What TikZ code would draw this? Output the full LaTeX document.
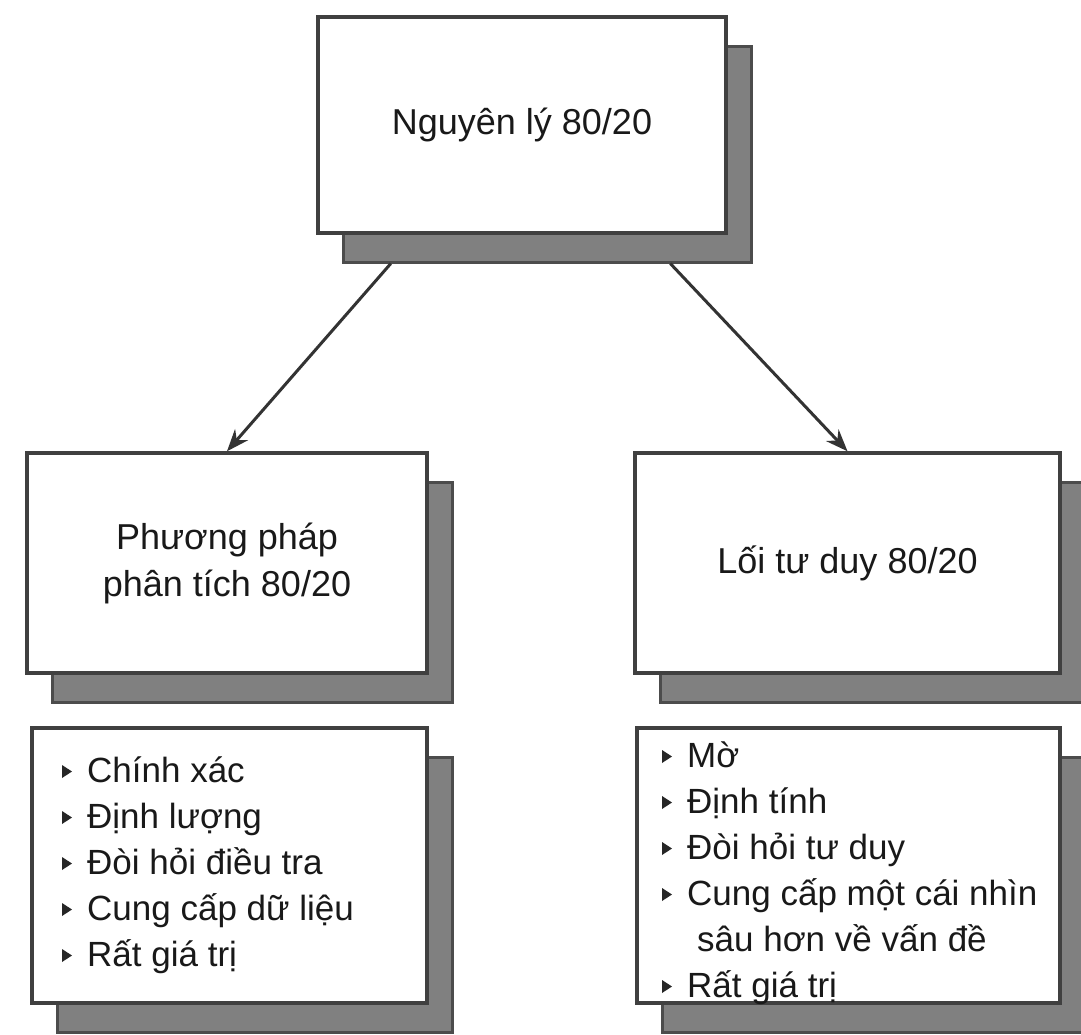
\documentclass[tikz,border=0pt]{standalone}
\usepackage{fontspec}
\setmainfont{Liberation Sans}
\usetikzlibrary{arrows.meta,calc}
\begin{document}
\begin{tikzpicture}[x=1pt,y=-1pt,
  frontbox/.style={draw=black!75, line width=3.5pt, fill=white, inner sep=0pt},
  shadowbox/.style={draw=black!70, line width=3pt, fill=black!50, inner sep=0pt},
  hdr/.style={font=\fontsize{36}{47}\selectfont, align=center, text=black!90},
  item/.style={font=\fontsize{35}{44}\selectfont, anchor=base west, inner sep=0pt, text=black!90},
  bul/.style={fill=black!85},
  conn/.style={draw=black!80, line width=3pt, -{Stealth[length=22pt,width=17pt]}}]
\useasboundingbox (0,0) rectangle (1081,1034);
\fill[white] (0,0) rectangle (1081,1034);

% shadows
\node[shadowbox, minimum width=408pt, minimum height=216pt] (topsh) at (547,154) {};
\node[shadowbox, minimum width=400pt, minimum height=220pt] (midLsh) at (252,592) {};
\node[shadowbox, minimum width=425pt, minimum height=220pt] (midRsh) at (872.5,592) {};
\node[shadowbox, minimum width=395pt, minimum height=275pt] (botLsh) at (254.5,894.5) {};
\node[shadowbox, minimum width=423pt, minimum height=275pt] (botRsh) at (873.5,894.5) {};

% front boxes
\node[frontbox, hdr, minimum width=408pt, minimum height=216pt] (top) at (522,125) {\raisebox{-5pt}{Nguyên lý 80/20}};
\node[frontbox, hdr, minimum width=400pt, minimum height=220pt] (midL) at (227,563) {Phương pháp\\phân tích 80/20};
\node[frontbox, hdr, minimum width=425pt, minimum height=220pt] (midR) at (847.5,563) {Lối tư duy 80/20};
\node[frontbox, minimum width=395pt, minimum height=275pt] (botL) at (229.5,865.5) {};
\node[frontbox, minimum width=423pt, minimum height=275pt] (botR) at (848.5,865.5) {};

% connectors
\draw[conn] ($(topsh.south west)!0.12!(topsh.south east)$) -- (midL.north);
\draw[conn] ($(topsh.south west)!0.80!(topsh.south east)$) -- (midR.north);

% left list
\foreach \t [count=\i] in {Chính xác, Định lượng, Đòi hỏi điều tra, Cung cấp dữ liệu, Rất giá trị}{
  \node[item] (bl\i) at (87,{782+46*(\i-1)}) {\t};
  \fill[bul] ($(bl\i.base west)+(-25,-17)$) -- ++(0,13) -- ++(10,-6.5) -- cycle;
}
% right list
\foreach \t/\yy [count=\i] in {Mờ/767, Định tính/813, Đòi hỏi tư duy/859, Cung cấp một cái nhìn/905, Rất giá trị/997}{
  \node[item] (br\i) at (687,\yy) {\t};
  \fill[bul] ($(br\i.base west)+(-25,-17)$) -- ++(0,13) -- ++(10,-6.5) -- cycle;
}
\node[item] (brx) at (697,951) {sâu hơn về vấn đề};
\end{tikzpicture}
\end{document}
